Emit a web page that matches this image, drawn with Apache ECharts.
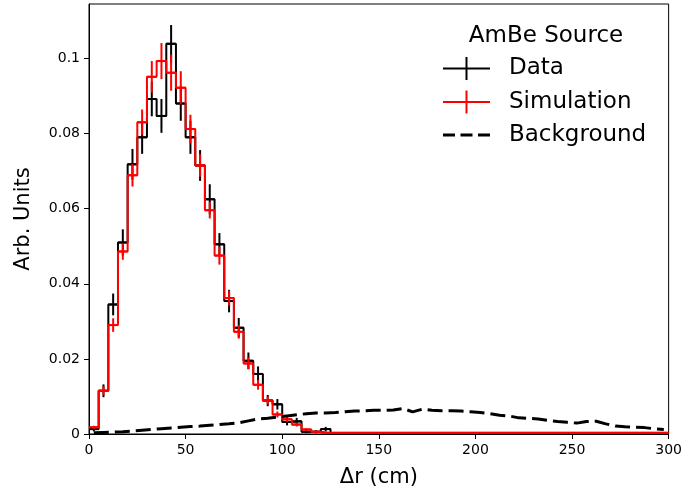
<!DOCTYPE html>
<html><head><meta charset="utf-8">
<script src="https://cdn.jsdelivr.net/npm/echarts@6/dist/echarts.min.js"></script>
<style>html,body{margin:0;padding:0;background:#fff}#c{width:685px;height:493px}</style>
</head><body><div id="c"></div>
<script>
// ---- data ----
const binEdges = [0,5,10,15,20,25,30,35,40,45,50,55,60,65,70,75,80,85,90,95,100,105,110,115,120,125,130,135,140,145,150,155,160,165,170,175,180,185,190,195,200,205,210,215,220,225,230,235,240,245,250,255,260,265,270,275,280,285,290,295,300];
const dataValues = [0.0013,0.0115,0.0345,0.0510,0.0718,0.0790,0.0892,0.0847,0.1039,0.0880,0.0790,0.0715,0.0625,0.0505,0.0354,0.0283,0.0195,0.0160,0.0089,0.0079,0.0032,0.0034,0.0006,0.0006,0.0013,0.0002,0.0002,0.0002,0.0002,0.0002,0.0002,0.0002,0.0002,0.0002,0.0002,0.0002,0.0002,0.0002,0.0002,0.0002,0.0002,0.0002,0.0002,0.0002,0.0002,0.0002,0.0002,0.0002,0.0002,0.0002,0.0002,0.0002,0.0002,0.0002,0.0002,0.0002,0.0002,0.0002,0.0002,0.0002];
const dataErrors = [0.0006,0.0017,0.0029,0.0035,0.0041,0.0044,0.0046,0.0045,0.0050,0.0046,0.0044,0.0041,0.0040,0.0030,0.0030,0.0026,0.0022,0.0020,0.0015,0.0014,0.0009,0.0009,0.0004,0.0004,0.0006,0.0002,0.0002,0.0002,0.0002,0.0002,0.0002,0.0002,0.0002,0.0002,0.0002,0.0002,0.0002,0.0002,0.0002,0.0002,0.0002,0.0002,0.0002,0.0002,0.0002,0.0002,0.0002,0.0002,0.0002,0.0002,0.0002,0.0002,0.0002,0.0002,0.0002,0.0002,0.0002,0.0002,0.0002,0.0002];
const simValues = [0.0018,0.0115,0.0290,0.0486,0.0689,0.0830,0.0951,0.0993,0.0962,0.0922,0.0812,0.0715,0.0596,0.0475,0.0362,0.0272,0.0188,0.0131,0.0089,0.0052,0.0039,0.0025,0.0012,0.0006,0.0003,0.0003,0.0003,0.0003,0.0003,0.0003,0.0003,0.0003,0.0003,0.0003,0.0003,0.0003,0.0003,0.0003,0.0003,0.0003,0.0003,0.0003,0.0003,0.0003,0.0003,0.0003,0.0003,0.0003,0.0003,0.0003,0.0003,0.0003,0.0003,0.0003,0.0003,0.0003,0.0003,0.0003,0.0003,0.0003];
const simErrors = [0.0004,0.0012,0.0018,0.0022,0.0030,0.0034,0.0042,0.0048,0.0048,0.0044,0.0038,0.0030,0.0022,0.0024,0.0020,0.0018,0.0016,0.0013,0.0011,0.0008,0.0007,0.0005,0.0003,0.0002,0.0002,0.0001,0.0001,0.0001,0.0001,0.0001,0.0001,0.0001,0.0001,0.0001,0.0001,0.0001,0.0001,0.0001,0.0001,0.0001,0.0001,0.0001,0.0001,0.0001,0.0001,0.0001,0.0001,0.0001,0.0001,0.0001,0.0001,0.0001,0.0001,0.0001,0.0001,0.0001,0.0001,0.0001,0.0001,0.0001];
const bkgValues = [0.0003,0.0004,0.0005,0.0006,0.0008,0.0010,0.0012,0.0014,0.0016,0.0018,0.0020,0.0021,0.0023,0.0025,0.0027,0.0030,0.0035,0.0040,0.0042,0.0045,0.0048,0.0051,0.0054,0.0056,0.0056,0.0057,0.0059,0.0061,0.0062,0.0063,0.0063,0.0064,0.0068,0.0059,0.0066,0.0063,0.0062,0.0062,0.0061,0.0059,0.0057,0.0054,0.0050,0.0048,0.0043,0.0042,0.0040,0.0036,0.0033,0.0031,0.0029,0.0033,0.0034,0.0027,0.0021,0.0019,0.0018,0.0017,0.0014,0.0012];
const xTicks = [0,50,100,150,200,250,300];
const yTicks = [0,0.02,0.04,0.06,0.08,0.1];
const yTickLabels = ['0','0.02','0.04','0.06','0.08','0.1'];
const legendTitle = 'AmBe Source';
const seriesNames = ['Data','Simulation','Background'];

const FONT = 'DejaVu Sans';
function stepPoints(vals){
  const pts = vals.map((v,i)=>[binEdges[i], v]);
  pts.push([binEdges[vals.length], vals[vals.length-1]]);
  return pts;
}
function errData(vals, errs){
  return vals.map((v,i)=>[binEdges[i], binEdges[i+1], v, errs[i]]);
}
function errRender(color){
  return function(params, api){
    const x0 = api.value(0), x1 = api.value(1), v = api.value(2), e = api.value(3);
    const xc = (x0+x1)/2;
    const a = api.coord([xc, v-e]), b = api.coord([xc, v+e]);
    const l = api.coord([x0, v]), r = api.coord([x1, v]);
    const st = {stroke: color, lineWidth: 2};
    return {type:'group', children:[
      {type:'line', shape:{x1:a[0],y1:a[1],x2:b[0],y2:b[1]}, style:st},
      {type:'line', shape:{x1:l[0],y1:l[1],x2:r[0],y2:r[1]}, style:st}
    ]};
  };
}
const chart = echarts.init(document.getElementById('c'), null, {renderer:'canvas'});
const ly = [68.5,102,135];
const lx0 = 443, lx1 = 490, ltx = 509;
const option = {
  animation:false,
  textStyle:{fontFamily:FONT},
  grid:{left:89,right:16,top:4,bottom:56,show:true,borderColor:'#000',borderWidth:1,backgroundColor:'transparent'},
  xAxis:{type:'value',min:0,max:300,interval:50,
    name:'Δr (cm)',nameLocation:'middle',nameGap:33,
    nameTextStyle:{fontFamily:FONT,fontSize:21,color:'#000'},
    axisLine:{show:true,lineStyle:{color:'#000',width:1}},
    axisTick:{show:true,inside:false,length:5,lineStyle:{color:'#000',width:1},customValues:xTicks},
    axisLabel:{color:'#000',fontFamily:FONT,fontSize:14,margin:9,customValues:xTicks},
    splitLine:{show:false}},
  yAxis:{type:'value',min:0,max:0.1145,
    name:'Arb. Units',nameLocation:'middle',nameGap:55,nameRotate:90,
    nameTextStyle:{fontFamily:FONT,fontSize:21,color:'#000'},
    axisLine:{show:true,lineStyle:{color:'#000',width:1}},
    axisTick:{show:true,inside:false,length:5,lineStyle:{color:'#000',width:1},customValues:yTicks},
    axisLabel:{color:'#000',fontFamily:FONT,fontSize:14,margin:9,customValues:yTicks,
      formatter:function(v){const i=yTicks.findIndex(t=>Math.abs(t-v)<1e-9);return i>=0?yTickLabels[i]:'';}},
    splitLine:{show:false}},
  series:[
    {name:seriesNames[0],type:'line',step:'end',data:stepPoints(dataValues),showSymbol:false,symbol:'none',
      lineStyle:{color:'#000',width:2},itemStyle:{color:'#000'},z:2,clip:true},
    {name:seriesNames[0],type:'custom',data:errData(dataValues,dataErrors),renderItem:errRender('#000'),
      encode:{x:[0,1],y:[2]},z:2,clip:true},
    {name:seriesNames[1],type:'line',step:'end',data:stepPoints(simValues),showSymbol:false,symbol:'none',
      lineStyle:{color:'#ff0000',width:2},itemStyle:{color:'#ff0000'},z:3,clip:true},
    {name:seriesNames[1],type:'custom',data:errData(simValues,simErrors),renderItem:errRender('#ff0000'),
      encode:{x:[0,1],y:[2]},z:3,clip:true},
    {name:seriesNames[2],type:'line',data:bkgValues.map((v,i)=>[(binEdges[i]+binEdges[i+1])/2, v]),
      showSymbol:false,symbol:'none',lineStyle:{color:'#000',width:3,type:[15,6]},itemStyle:{color:'#000'},z:4,clip:true}
  ],
  graphic:[
    {type:'text',x:546,y:36,style:{text:legendTitle,fill:'#000',font:'23px "DejaVu Sans"',align:'center',verticalAlign:'middle'}},
    {type:'line',shape:{x1:lx0,y1:ly[0],x2:lx1,y2:ly[0]},style:{stroke:'#000',lineWidth:2}},
    {type:'line',shape:{x1:466.5,y1:ly[0]-11.5,x2:466.5,y2:ly[0]+11.5},style:{stroke:'#000',lineWidth:2}},
    {type:'text',x:ltx,y:ly[0],style:{text:seriesNames[0],fill:'#000',font:'23px "DejaVu Sans"',align:'left',verticalAlign:'middle'}},
    {type:'line',shape:{x1:lx0,y1:ly[1],x2:lx1,y2:ly[1]},style:{stroke:'#ff0000',lineWidth:2}},
    {type:'line',shape:{x1:466.5,y1:ly[1]-11.5,x2:466.5,y2:ly[1]+11.5},style:{stroke:'#ff0000',lineWidth:2}},
    {type:'text',x:ltx,y:ly[1],style:{text:seriesNames[1],fill:'#000',font:'23px "DejaVu Sans"',align:'left',verticalAlign:'middle'}},
    {type:'line',shape:{x1:lx0,y1:ly[2],x2:lx1,y2:ly[2]},style:{stroke:'#000',lineWidth:3,lineDash:[12,5.5]}},
    {type:'text',x:ltx,y:ly[2],style:{text:seriesNames[2],fill:'#000',font:'23px "DejaVu Sans"',align:'left',verticalAlign:'middle'}}
  ]
};
chart.setOption(option);
</script>
</body></html>
